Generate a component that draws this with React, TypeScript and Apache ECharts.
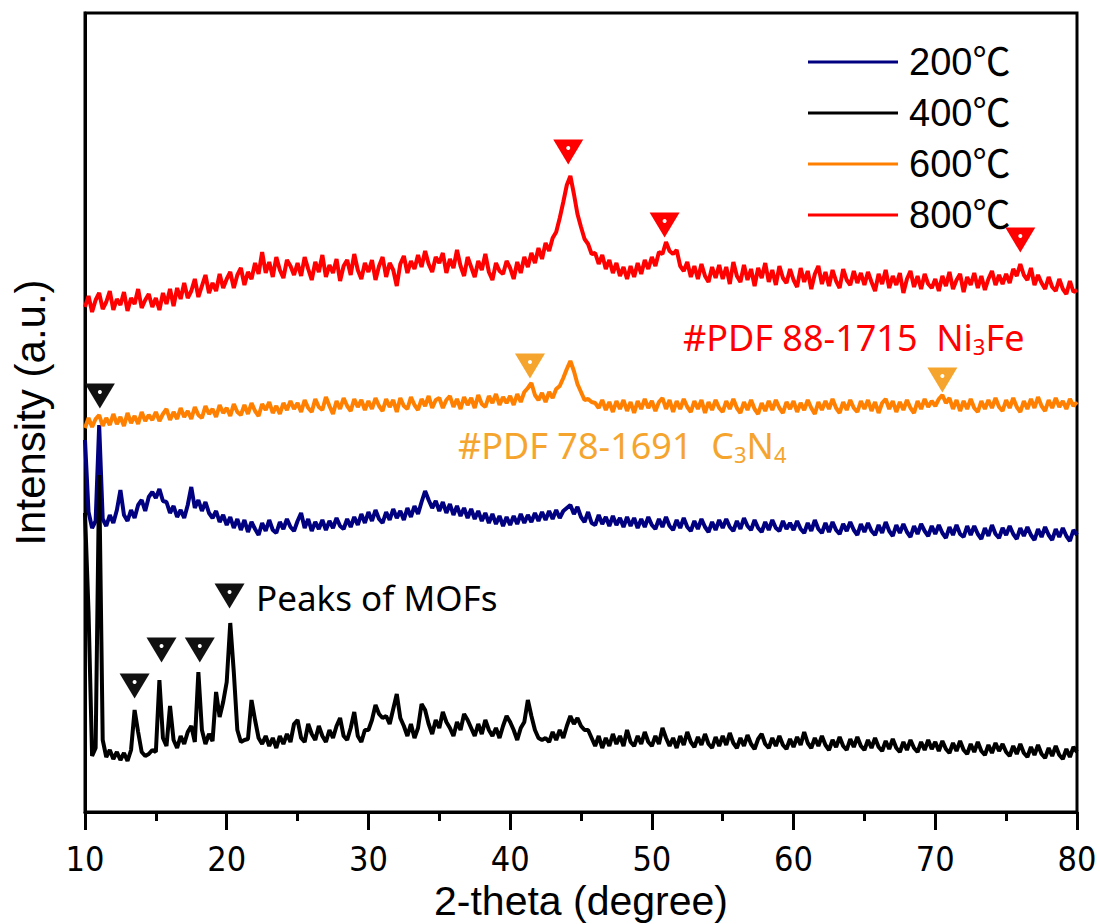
import React, { useEffect, useRef } from "react";
import * as echarts from "echarts";

// 2-theta scan: first angle and step (degrees)
const START = 10;
const STEP = 0.25;

const seriesNames = ["200℃", "400℃", "600℃", "800℃"];
const seriesColors = ["#000080", "#000000", "#FF8000", "#FF0000"];

// Offset intensities (a.u.), one value per 0.25° from 10° to 80°
const i200 = [
  372, 300, 284, 291, 387, 293, 286, 297, 289, 302, 322, 297, 291, 302, 294, 307, 312, 301, 315, 320,
  314, 323, 311, 310, 299, 306, 295, 302, 294, 307, 325, 304, 312, 301, 310, 299, 294, 301, 290, 297,
  287, 295, 284, 293, 282, 292, 280, 290, 283, 277, 289, 281, 292, 282, 279, 290, 283, 293, 285, 281,
  291, 299, 284, 293, 281, 290, 283, 292, 282, 291, 284, 294, 286, 283, 293, 285, 295, 287, 298, 289,
  300, 291, 302, 293, 289, 300, 292, 303, 294, 301, 292, 304, 295, 306, 298, 310, 321, 312, 304, 311,
  301, 310, 299, 308, 297, 306, 296, 304, 294, 303, 293, 301, 291, 299, 289, 298, 288, 296, 286, 295,
  287, 296, 288, 298, 289, 297, 290, 299, 291, 300, 292, 301, 293, 302, 294, 301, 304, 307, 298, 305,
  295, 290, 300, 289, 287, 297, 288, 295, 286, 296, 287, 294, 285, 295, 286, 294, 284, 293, 285, 295,
  287, 283, 293, 285, 295, 286, 282, 292, 284, 294, 285, 281, 291, 283, 293, 285, 280, 290, 282, 292,
  284, 293, 285, 281, 291, 283, 294, 286, 282, 292, 284, 280, 290, 282, 292, 284, 281, 291, 283, 289,
  282, 291, 283, 279, 289, 281, 292, 283, 279, 289, 280, 290, 282, 278, 288, 281, 290, 282, 277, 288,
  280, 289, 281, 277, 287, 279, 290, 281, 276, 287, 279, 288, 280, 275, 286, 278, 288, 281, 276, 286,
  278, 287, 279, 274, 285, 277, 287, 278, 275, 286, 277, 286, 278, 273, 284, 276, 287, 278, 274, 284,
  277, 286, 278, 273, 284, 276, 285, 277, 272, 283, 275, 285, 277, 272, 283, 275, 284, 276, 271, 282,
  277,
];

const i400 = [
  299, 200, 56, 64, 337, 72, 55, 62, 53, 60, 52, 59, 51, 62, 102, 80, 60, 56, 58, 62,
  60, 132, 74, 66, 106, 72, 64, 76, 68, 80, 86, 70, 140, 82, 68, 78, 71, 120, 95, 110,
  130, 189, 140, 82, 70, 72, 73, 112, 92, 74, 68, 76, 66, 74, 64, 76, 68, 78, 70, 88,
  92, 74, 70, 88, 78, 72, 86, 76, 70, 82, 74, 86, 94, 76, 72, 84, 100, 76, 70, 82,
  82, 92, 107, 98, 94, 96, 88, 103, 118, 94, 86, 76, 88, 74, 84, 108, 102, 88, 78, 92,
  84, 100, 90, 84, 76, 90, 82, 98, 92, 84, 76, 88, 78, 92, 82, 76, 84, 74, 86, 96,
  90, 82, 72, 84, 90, 112, 96, 82, 74, 72, 74, 70, 80, 72, 82, 74, 86, 96, 88, 94,
  86, 82, 82, 74, 66, 76, 64, 74, 66, 78, 68, 76, 66, 82, 70, 66, 76, 68, 80, 70,
  66, 76, 68, 84, 74, 66, 74, 64, 76, 67, 80, 70, 65, 75, 67, 78, 68, 64, 75, 66,
  76, 67, 79, 69, 64, 74, 66, 77, 68, 63, 73, 78, 68, 64, 74, 66, 76, 67, 63, 73,
  65, 75, 67, 80, 69, 64, 74, 66, 76, 67, 62, 72, 65, 75, 66, 62, 73, 65, 75, 66,
  62, 72, 64, 74, 65, 61, 71, 63, 73, 64, 60, 70, 62, 72, 64, 60, 70, 62, 72, 63,
  70, 61, 71, 63, 59, 69, 61, 71, 62, 58, 68, 60, 70, 61, 57, 67, 59, 69, 61, 68,
  60, 56, 66, 58, 68, 59, 55, 65, 57, 67, 58, 54, 64, 56, 66, 57, 53, 63, 55, 65,
  60,
];

const i600 = [
  384, 394, 385, 393, 397, 386, 394, 387, 398, 388, 395, 386, 399, 389, 396, 388, 400, 391, 397, 392,
  400, 391, 398, 403, 392, 400, 393, 404, 395, 401, 393, 405, 397, 394, 406, 398, 403, 395, 407, 399,
  404, 396, 408, 400, 397, 407, 398, 409, 401, 396, 408, 402, 410, 399, 406, 398, 409, 402, 411, 403,
  409, 400, 412, 404, 400, 413, 405, 402, 415, 406, 398, 411, 403, 414, 406, 401, 413, 405, 412, 402,
  411, 403, 414, 406, 401, 413, 405, 412, 400, 414, 406, 403, 415, 407, 402, 413, 406, 416, 404, 412,
  414, 404, 412, 416, 405, 413, 403, 415, 407, 414, 404, 417, 408, 405, 416, 409, 418, 407, 415, 409,
  416, 407, 418, 410, 420, 424, 429, 417, 412, 419, 410, 420, 414, 423, 426, 434, 443, 451, 441, 428,
  420, 412, 413, 410, 409, 404, 412, 402, 410, 400, 411, 403, 412, 401, 410, 399, 411, 403, 413, 404,
  411, 401, 410, 414, 403, 412, 400, 411, 403, 413, 405, 400, 411, 403, 412, 399, 410, 402, 412, 404,
  400, 411, 403, 413, 404, 399, 410, 402, 412, 403, 398, 409, 401, 411, 402, 412, 404, 399, 410, 403,
  411, 400, 409, 402, 412, 404, 398, 410, 402, 411, 403, 413, 404, 399, 410, 402, 412, 404, 400, 411,
  403, 412, 401, 410, 399, 409, 413, 403, 411, 400, 410, 402, 412, 404, 399, 411, 403, 413, 405, 411,
  406, 413, 417, 409, 414, 403, 412, 401, 411, 403, 413, 404, 400, 411, 403, 412, 404, 414, 405, 401,
  412, 404, 414, 405, 400, 411, 403, 413, 404, 415, 406, 401, 412, 404, 414, 405, 411, 403, 413, 406,
  410,
];

const i800 = [
  505, 516, 500, 512, 519, 503, 510, 521, 502, 513, 507, 520, 501, 514, 508, 523, 504, 512, 518, 505,
  514, 502, 519, 508, 523, 506, 524, 513, 529, 514, 521, 533, 515, 526, 537, 519, 529, 521, 538, 524,
  533, 540, 524, 537, 544, 527, 540, 533, 549, 538, 560, 539, 550, 535, 555, 542, 534, 552, 546, 537,
  549, 536, 555, 543, 532, 550, 540, 557, 535, 547, 539, 553, 531, 546, 552, 537, 558, 542, 533, 549,
  540, 552, 532, 546, 555, 535, 549, 542, 526, 548, 556, 539, 551, 543, 557, 545, 561, 548, 540, 555,
  549, 559, 539, 553, 544, 562, 546, 536, 555, 545, 535, 551, 542, 558, 540, 532, 549, 541, 538, 551,
  544, 533, 550, 539, 555, 545, 559, 549, 564, 553, 569, 561, 574, 580, 594, 610, 627, 636, 618, 598,
  585, 573, 568, 558, 559, 548, 557, 543, 552, 539, 549, 536, 545, 533, 546, 535, 549, 538, 552, 543,
  555, 546, 560, 558, 570, 561, 558, 562, 546, 541, 550, 535, 546, 533, 548, 536, 530, 545, 534, 547,
  533, 545, 528, 550, 536, 530, 547, 532, 543, 526, 544, 534, 549, 530, 542, 527, 546, 534, 529, 543,
  532, 525, 544, 530, 541, 523, 538, 546, 528, 540, 526, 542, 531, 524, 543, 532, 527, 541, 529, 539,
  527, 540, 530, 521, 538, 528, 542, 524, 536, 527, 539, 519, 533, 541, 525, 536, 523, 538, 528, 524,
  533, 521, 536, 526, 540, 523, 532, 538, 520, 535, 527, 539, 524, 536, 522, 533, 541, 527, 537, 528,
  538, 529, 543, 536, 548, 537, 532, 544, 527, 537, 529, 523, 535, 525, 521, 533, 523, 518, 531, 520,
  522,
];

// Reference peak markers: [2-theta, marker height]
const ni3feMarks = [[44.1, 660], [50.9, 587], [76.0, 572]];
const c3n4Marks = [[41.4, 446], [70.5, 432]];
const mofMarks = [[11.05, 416], [13.5, 126], [15.4, 162], [18.1, 162], [20.2, 216]];

const ORANGE_LABEL = "#F5A52E";

const toPairs = (vals: number[]) => vals.map((v, i) => [START + i * STEP, v]);

const markSeries = (name: string, data: number[][], color: string) => [
  {
    name,
    type: "scatter",
    data,
    symbol: "triangle",
    symbolRotate: 180,
    symbolSize: [30, 25],
    itemStyle: { color, opacity: 1 },
    z: 5,
    silent: true,
  },
  {
    name: name + "-dot",
    type: "scatter",
    data,
    symbol: "circle",
    symbolSize: 4,
    symbolOffset: [0, -4],
    itemStyle: { color: "#ffffff", opacity: 1 },
    z: 6,
    silent: true,
  },
];

export default function App() {
  const ref = useRef<HTMLDivElement>(null);

  useEffect(() => {
    if (!ref.current) return;
    const chart = echarts.init(ref.current, null, { renderer: "svg" });
    const curves = [i200, i400, i600, i800];
    const sans = '"Liberation Sans", Arial, "Noto Sans CJK SC", sans-serif';
    const annot = '"Noto Sans", "Open Sans", "Noto Sans CJK SC", sans-serif';
    const subStyle = (fill: string) => ({
      fontSize: 22,
      fill,
      fontFamily: annot,
      verticalAlign: "bottom",
      padding: [18, 0, 0, 0],
    });

    chart.setOption({
      animation: false,
      backgroundColor: "#ffffff",
      grid: {
        left: 85,
        right: 23,
        top: 13,
        bottom: 112,
        show: true,
        borderColor: "#000",
        borderWidth: 3,
        outerBoundsMode: "none",
        containLabel: false,
      },
      legend: {
        data: seriesNames,
        orient: "vertical",
        left: 803,
        top: 37,
        itemWidth: 90,
        itemHeight: 3,
        itemGap: 11,
        icon: "rect",
        textStyle: {
          fontSize: 38,
          lineHeight: 40,
          color: "#000",
          fontFamily: sans,
          padding: [0, 0, 0, 6],
        },
      },
      xAxis: {
        type: "value",
        min: 10,
        max: 80,
        interval: 10,
        axisLine: { lineStyle: { color: "#000", width: 3 } },
        axisTick: { show: true, inside: false, length: 18, lineStyle: { color: "#000", width: 3 } },
        minorTick: { show: true, splitNumber: 2, length: 9, lineStyle: { color: "#000", width: 3 } },
        splitLine: { show: false },
        axisLabel: {
          fontSize: 34,
          color: "#000",
          margin: 30,
          fontFamily: '"Liberation Sans Narrow", "DejaVu Sans Condensed", "Liberation Sans", sans-serif',
        },
        name: "2-theta (degree)",
        nameLocation: "middle",
        nameGap: 63,
        nameTextStyle: { fontSize: 41, color: "#000", fontFamily: sans },
      },
      yAxis: {
        type: "value",
        min: 0,
        max: 799,
        axisLine: { show: true, lineStyle: { color: "#000", width: 3 } },
        axisTick: { show: false },
        axisLabel: { show: false },
        splitLine: { show: false },
        name: "Intensity (a.u.)",
        nameLocation: "middle",
        nameGap: 34,
        nameTextStyle: { fontSize: 42, color: "#000", fontFamily: sans },
      },
      series: [
        ...curves.map((vals, k) => ({
          name: seriesNames[k],
          type: "line",
          data: toPairs(vals),
          showSymbol: false,
          symbol: "none",
          color: seriesColors[k],
          lineStyle: { width: 4, color: seriesColors[k] },
          z: 2 + k * 0.1,
        })),
        ...markSeries("Ni3Fe", ni3feMarks, "#FF0000"),
        ...markSeries("C3N4", c3n4Marks, ORANGE_LABEL),
        ...markSeries("MOFs", mofMarks, "#111111"),
      ],
      graphic: [
        {
          type: "text",
          x: 683,
          y: 337,
          style: {
            text: "#PDF 88-1715  Ni{sub|3}Fe",
            fill: "#FF0000",
            font: `36px ${annot}`,
            verticalAlign: "middle",
            rich: { sub: subStyle("#FF0000") },
          },
        },
        {
          type: "text",
          x: 458,
          y: 445,
          style: {
            text: "#PDF 78-1691  C{sub|3}N{sub|4}",
            fill: ORANGE_LABEL,
            font: `36px ${annot}`,
            verticalAlign: "middle",
            rich: { sub: subStyle(ORANGE_LABEL) },
          },
        },
        {
          type: "text",
          x: 256,
          y: 597,
          style: {
            text: "Peaks of MOFs",
            fill: "#000",
            font: `35px ${annot}`,
            verticalAlign: "middle",
          },
        },
      ],
    });
    return () => chart.dispose();
  }, []);

  return (
    <div
      ref={ref}
      style={{ position: "absolute", left: 0, top: 0, width: 1100, height: 924 }}
    />
  );
}
